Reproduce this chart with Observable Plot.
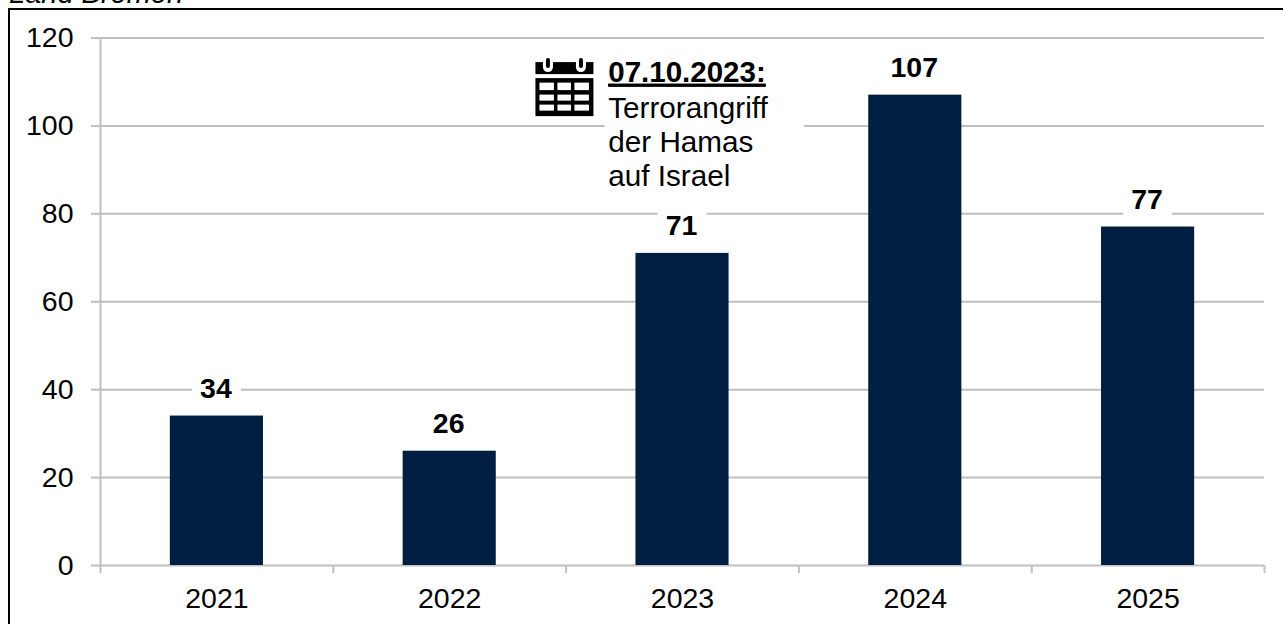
<!DOCTYPE html>
<html lang="de">
<head>
<meta charset="utf-8">
<script src="https://cdn.jsdelivr.net/npm/d3@7"></script>
<script src="https://cdn.jsdelivr.net/npm/@observablehq/plot@0.6"></script>
<style>
html,body{margin:0;padding:0;background:#fff;width:1283px;height:624px;overflow:hidden;font-family:"Liberation Sans",Arial,sans-serif}
#wrap{position:relative;width:1283px;height:624px;overflow:hidden}
#frame{position:absolute;left:8px;top:8px;width:1283px;height:700px;border-left:2px solid #000;border-top:2px solid #000;box-sizing:border-box}
#region{position:absolute;left:9px;top:-23px;font:italic 29px/32px "Liberation Sans",Arial,sans-serif;color:#000;white-space:nowrap}
#chart{position:absolute;left:0;top:0}
.ul{text-decoration:underline;text-decoration-thickness:4px;text-underline-offset:2px}
</style>
</head>
<body>
<div id="wrap">
<div id="region">Land Bremen</div>
<div id="frame"></div>
<div id="chart"></div>
</div>
<script>
const years = [2021, 2022, 2023, 2024, 2025];
const counts = [34, 26, 71, 107, 77];
const yTicks = [0, 20, 40, 60, 80, 100, 120];
const bandEdges = [2020.5, 2021.5, 2022.5, 2023.5, 2024.5, 2025.5];
const maskedYears = [2021, 2023, 2025];
const noteDate = "07.10.2023:";
const noteLines = ["Terrorangriff", "der Hamas", "auf Israel"];
const noteYears = [2022.681];
const noteDateY = [112.2];
const noteLineY = [104, 96.2, 88.6];

const rows = years.map((year, i) => ({year, count: counts[i]}));
const masks = rows.filter(d => maskedYears.includes(d.year));
const GRID = "#bfbfbf", BAR = "#001d42", FS = 28.5;

const icon = "data:image/svg+xml," + encodeURIComponent(
`<svg xmlns="http://www.w3.org/2000/svg" viewBox="0 0 60 60">
<rect x="0.5" y="4" width="58" height="12" fill="#000"/>
<rect x="0.5" y="20" width="58" height="38" fill="#000"/>
<path d="M8 0V9a5 5 0 0 0 10 0V0M41 0V9a5 5 0 0 0 10 0V0" fill="#fff"/>
<rect x="11" y="0" width="4" height="10" rx="2" fill="#000"/><rect x="44" y="0" width="4" height="10" rx="2" fill="#000"/>
<g fill="#fff">
<rect x="4.5" y="24.5" width="14.5" height="7.5"/><rect x="22.5" y="24.5" width="13.5" height="7.5"/><rect x="39.5" y="24.5" width="14.5" height="7.5"/>
<rect x="4.5" y="36.5" width="14.5" height="6"/><rect x="22.5" y="36.5" width="13.5" height="6"/><rect x="39.5" y="36.5" width="14.5" height="6"/>
<rect x="4.5" y="46.5" width="14.5" height="6"/><rect x="22.5" y="46.5" width="13.5" height="6"/><rect x="39.5" y="46.5" width="14.5" height="6"/>
</g></svg>`);

const plot = Plot.plot({
  width: 1283, height: 624,
  marginLeft: 100, marginRight: 19, marginTop: 37.5, marginBottom: 59,
  style: {fontFamily: '"Liberation Sans", Arial, sans-serif', fontSize: FS + "px", background: "transparent", color: "#000", overflow: "visible"},
  x: {domain: [2020.5, 2025.5], label: null},
  y: {domain: [0, 120], label: null},
  marks: [
    Plot.ruleY(yTicks, {stroke: GRID, strokeWidth: 2}),
    Plot.ruleX([bandEdges[0]], {stroke: GRID, strokeWidth: 2}),
    // white breaks behind labels and the note
    Plot.rect(masks, {x1: d => d.year - 0.105, x2: d => d.year + 0.105, y1: d => d.count + 2, y2: d => d.count + 12, fill: "#fff"}),
    Plot.rect(noteYears, {x1: d => d - 0.013, x2: d => d + 0.842, y1: 92, y2: 108, fill: "#fff"}),
    Plot.axisY({ticks: yTicks, tickSize: 9, tickPadding: 18, stroke: GRID, strokeWidth: 2, strokeOpacity: 1, fill: "#000", fontSize: FS, label: null}),
    Plot.axisX({ticks: bandEdges, tickSize: 8, stroke: GRID, strokeWidth: 2, strokeOpacity: 1, tickFormat: () => "", label: null}),
    Plot.axisX({ticks: years, tickSize: 0, tickPadding: 22, fill: "#000", fontSize: FS, tickFormat: d3.format("d"), label: null}),
    Plot.rectY(rows, {x1: d => d.year - 0.2, x2: d => d.year + 0.2, y: "count", fill: BAR}),
    Plot.text(rows, {x: "year", y: "count", text: d => String(d.count), dy: -27.5, dx: -1, fontWeight: "bold", fontSize: 28.5, fill: "#000"}),
    Plot.image(noteYears, {x: () => 2022.495, y: () => 108.6, width: 60, height: 60, src: () => icon}),
    Plot.text([noteDate], {x: () => noteYears[0], y: () => noteDateY[0], text: d => d, textAnchor: "start", fontWeight: "bold", fontSize: 29.5, fill: "#000", className: "ul"}),
    Plot.text(noteLines, {x: () => noteYears[0], y: (d, i) => noteLineY[i], text: d => d, textAnchor: "start", fontSize: 29.7, fill: "#000"})
  ]
});
document.getElementById("chart").appendChild(plot);
document.querySelectorAll(".ul text").forEach(t => t.classList.add("ul"));
</script>
</body>
</html>
